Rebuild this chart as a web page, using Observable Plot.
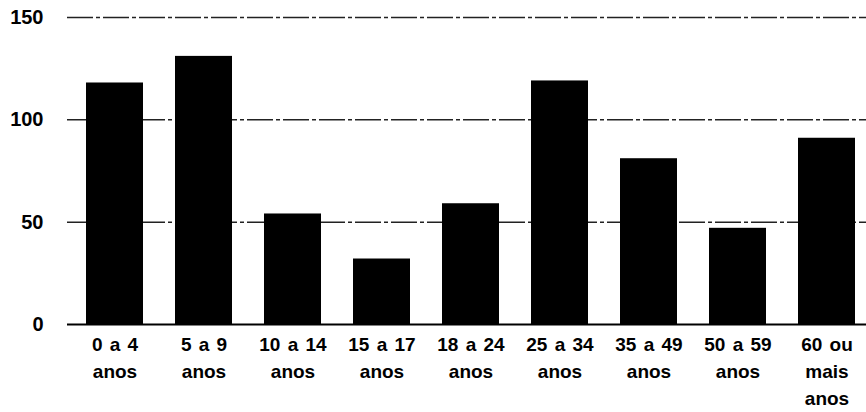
<!DOCTYPE html>
<html>
<head>
<meta charset="utf-8">
<script src="https://cdn.jsdelivr.net/npm/d3@7"></script>
<script src="https://cdn.jsdelivr.net/npm/@observablehq/plot@0.6"></script>
<style>
  html, body { margin: 0; padding: 0; background: #fff; }
  #chart svg { display: block; }
  #chart svg text { word-spacing: 2px; }
</style>
</head>
<body>
<div id="chart"></div>
<script>
const categories = [
  "0 a 4\nanos", "5 a 9\nanos", "10 a 14\nanos", "15 a 17\nanos", "18 a 24\nanos",
  "25 a 34\nanos", "35 a 49\nanos", "50 a 59\nanos", "60 ou\nmais\nanos"
];
const values = [118, 131, 54, 32, 59, 119, 81, 47, 91];
const yTicks = [0, 50, 100, 150];
const gridValues = [50, 100, 150];

const data = categories.map((c, i) => ({ category: c, value: values[i] }));

const chart = Plot.plot({
  width: 866,
  height: 412,
  marginLeft: 67,
  marginRight: 0,
  marginTop: 17,
  marginBottom: 88,
  x: { domain: categories, range: [67, 873], paddingInner: 0.36, paddingOuter: 0.18, label: null },
  y: { domain: [0, 150], range: [324, 17], label: null },
  style: {
    fontFamily: "'Liberation Sans', Arial, sans-serif",
    fontWeight: "bold",
    fontSize: "19px",
    color: "#000",
    background: "#fff"
  },
  marks: [
    Plot.ruleY(gridValues, { stroke: "#222", strokeWidth: 1.5, strokeDasharray: "26,3,4,3" }),
    Plot.barY(data, { x: "category", y: "value", fill: "#000" }),
    Plot.ruleY([0], { stroke: "#000", strokeWidth: 2 }),
    Plot.axisY(yTicks, { tickSize: 0, tickPadding: 24, fontSize: 20, fontWeight: "bold", label: null }),
    Plot.axisX({ tickSize: 0, tickPadding: 8, lineHeight: 1.4, fontSize: 19, fontWeight: "bold", label: null })
  ]
});
document.getElementById("chart").append(chart);
</script>
</body>
</html>
